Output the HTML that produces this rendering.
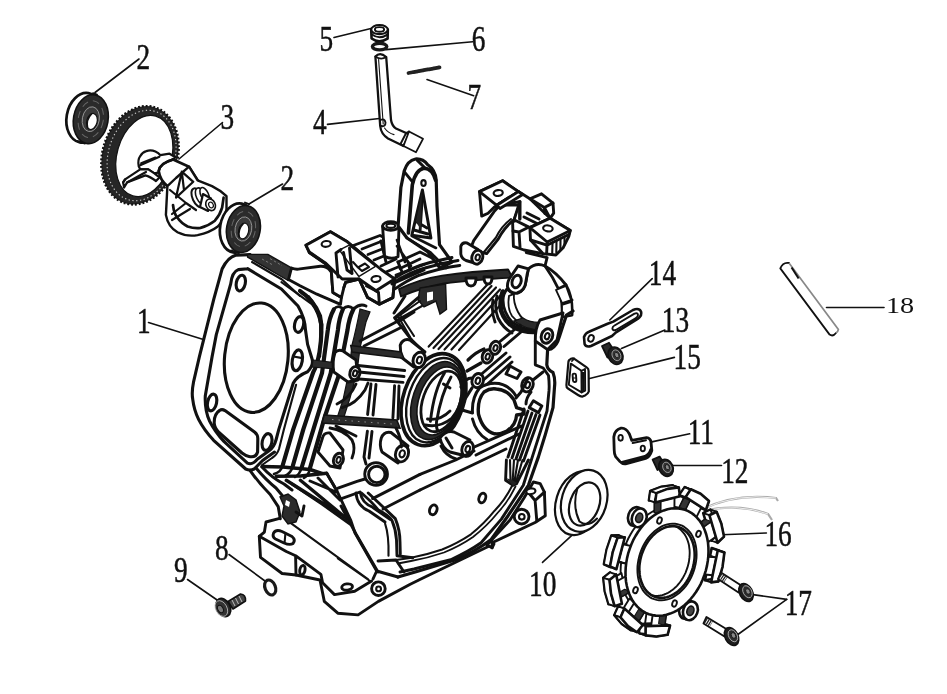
<!DOCTYPE html>
<html><head><meta charset="utf-8">
<style>
html,body{margin:0;padding:0;background:#fff;}
body{width:947px;height:694px;overflow:hidden;font-family:"Liberation Serif",serif;}
svg{display:block;position:absolute;left:0;top:0;filter:blur(.7px);}
.lb{font-family:"Liberation Serif",serif;font-size:35px;fill:#111;stroke:#111;stroke-width:.5;}
.ld{stroke:#111;stroke-width:1.6;fill:none;stroke-linecap:round;}
.o{stroke:#111;stroke-width:2.6;fill:none;stroke-linejoin:round;stroke-linecap:round;}
.m{stroke:#111;stroke-width:1.9;fill:none;stroke-linejoin:round;stroke-linecap:round;}
.t{stroke:#111;stroke-width:1.1;fill:none;stroke-linejoin:round;stroke-linecap:round;}
.k{stroke:#111;stroke-width:3.4;fill:none;stroke-linejoin:round;stroke-linecap:round;}
.w{fill:#fff;}
#body .o,#fins .o,#topbr .o,#base .o{stroke-width:2.9}#flange .o{stroke-width:3.1}#body .m,#fins .m,#flange .m,#topbr .m,#base .m{stroke-width:2.1}
#p3 .m{stroke-width:2.2}#p3 .o{stroke-width:2.7}
.d{fill:#222;}
</style></head><body>
<svg width="947" height="694" viewBox="0 0 947 694">
<rect width="947" height="694" fill="#fff"/>
<!--LABELS-->
<g id="labels">
<g class="lb">
<text transform="translate(136.5,69) scale(.78,1)">2</text>
<text transform="translate(220.5,129) scale(.78,1)">3</text>
<text transform="translate(280.5,190) scale(.78,1)">2</text>
<text transform="translate(137,332.5) scale(.78,1)">1</text>
<text transform="translate(319.5,51) scale(.78,1)">5</text>
<text transform="translate(313,134) scale(.78,1)">4</text>
<text transform="translate(471.7,51.3) scale(.78,1)">6</text>
<text transform="translate(467.4,108.5) scale(.78,1)">7</text>
<text transform="translate(215,559.5) scale(.78,1)">8</text>
<text transform="translate(174,582) scale(.78,1)">9</text>
<text transform="translate(529,595.8) scale(.78,1)">10</text>
<text transform="translate(687.7,444.4) scale(.78,1)">11</text>
<text transform="translate(721.2,482.5) scale(.78,1)">12</text>
<text transform="translate(661.8,331.6) scale(.78,1)">13</text>
<text transform="translate(648.8,285) scale(.78,1)">14</text>
<text transform="translate(673.5,368.6) scale(.78,1)">15</text>
<text transform="translate(764.4,546) scale(.78,1)">16</text>
<text transform="translate(784.7,614.7) scale(.78,1)">17</text>
</g>
<text style="font-family:'Liberation Serif',serif;font-size:23.5px;fill:#111" transform="translate(886,313) scale(1.2,1)">18</text>
</g>
<!--LEADERS-->
<g id="leaders" class="ld">
<path d="M139,59 L95,92.5"/>
<path d="M222.5,122.5 L179,159"/>
<path d="M282.5,184 L249,204"/>
<path d="M148.5,322.5 L205,340"/>
<path d="M334,37.5 L373,28"/>
<path d="M386,49.6 L472.7,41.8"/>
<path d="M427,79.5 L473.7,95.8"/>
<path d="M327.5,124.4 L379.4,118.5"/>
<path d="M229,554.5 L265,581"/>
<path d="M187.5,579.5 L220,602"/>
<path d="M574.3,533.2 L542.5,562.4"/>
<path d="M689.7,433.8 L651.7,441.9"/>
<path d="M673.2,465.5 L721.5,465.5"/>
<path d="M664.9,330 L621.4,348.5"/>
<path d="M652.2,278.6 L609.8,320"/>
<path d="M674.4,357.4 L588.6,378.8"/>
<path d="M722,534.7 L766.4,533"/>
<path d="M786.7,599.4 L751.2,594.4"/>
<path d="M786.7,599.4 L737.2,635"/>
<path d="M826.5,307.5 L884,307.5"/>
</g>
<g id="p18">
<path d="M780.6,268.6 L830,335 Q835,337.5 838.6,329.6 L789.2,263.2 Q784,261.5 780.6,268.6 Z" fill="#fff" stroke="none"/>
<path class="o" style="stroke-width:1.8" d="M789,263 Q783,261.8 780.3,268.4 L829.6,334.6 Q833,337 836,333"/>
<path d="M789,263 L838.4,329.4 Q838,332 836,333" fill="none" stroke="#888" stroke-width="1.7"/>
<path d="M791.6,267.5 L798.6,278.5" fill="none" stroke="#111" stroke-width="2"/>
</g>
<g id="p2a">
<g transform="translate(84.2,117.8) rotate(10)">
<ellipse rx="17.6" ry="25" fill="#fff" stroke="#111" stroke-width="2.7"/>
</g>
<path d="M77,141 l8,2.5 M93,93.2 l4,1.5" class="m"/>
<g transform="translate(90.8,119.2) rotate(10)">
<ellipse rx="17.3" ry="24.6" fill="#2b2b2b" stroke="#111" stroke-width="1.6"/>
<ellipse rx="12.5" ry="18.5" fill="none" stroke="#666" stroke-width="1" stroke-dasharray="7 5"/>
<ellipse rx="8.5" ry="12.5" fill="#3a3a3a" stroke="#999" stroke-width=".9"/>
</g>
<g transform="translate(91.9,121.5) rotate(14)">
<ellipse rx="5.2" ry="8.2" fill="#fff" stroke="#111" stroke-width="1.2"/>
<path d="M-2,-7.5 Q-6.5,0 -2.5,7.6" fill="none" stroke="#111" stroke-width="1.6"/>
</g>
</g>
<g id="p3">
<!-- gear ring -->
<g transform="translate(140,155.3) rotate(17.5)">
<ellipse rx="37.4" ry="50.2" fill="#262626" stroke="#111" stroke-width="2.4" stroke-dasharray="1.9 1.9"/>
<ellipse rx="36" ry="49" fill="#262626" stroke="none"/>
</g>
<g transform="translate(141.6,155.5) rotate(17)">
<ellipse rx="33.2" ry="46.2" fill="none" stroke="#ccc" stroke-width="1.1" stroke-dasharray="1.3 2.5"/>
</g>
<g transform="translate(144.3,156) rotate(16)">
<ellipse rx="27.2" ry="41.5" fill="#fff" stroke="#111" stroke-width="1.2"/>
</g>
<!-- hub -->
<path class="m w" d="M138.7,166.3 Q137.5,160 140.2,156.2 Q142.5,152 146.3,151.1 Q151,149.6 155.4,151.6 Q158.5,153 160.4,155.2 L169.5,153.7 L175.5,157.2 L164,166 L159.4,172.3 L154.4,173.3 L148.3,169.3 L140.2,169.3Z"/>
<path class="m" d="M140.2,165.3 L159.4,156.7 M141.2,163.3 L155.4,157.6"/>
<path class="m w" d="M125.1,179.4 L140.2,169.3 L148.3,169.3 L154.4,173.3 L159.4,177.4 L156,181 Q150,176.5 145.3,175.4 L127.1,182.4 L124.1,187.5 L123.1,182.4Z"/>
<path class="m" d="M127.1,182.4 L146,172 M125.1,179.4 L123.1,182.4"/>
<!-- cylinder -->
<path class="o w" d="M158.7,171 Q160,163 173.1,159.5 L189,166.7 L200,184 L176,200 L167.4,186.1 Q160,180 158.7,171Z"/>
<path class="k" style="stroke-width:2.4" d="M158.7,171 Q160,163 173.1,159.5"/>
<!-- flyweight U -->
<path class="o w" style="stroke-width:2.4" d="M167.4,186.1 L165.9,214.9 Q168,227 177.5,232.2 Q187,237 197.6,235.1 Q210,232.5 217.8,226.5 Q225,219 226.5,209.2 L226.5,196.2 Q220,190 212,186.1 L197.6,180.3 L189,166.7 L176,178Z"/>
<path class="o" d="M173,205 Q174,214 177.5,217.8 Q181,223 187.6,226.5 Q194,228.6 200.5,227.9 Q208,226 214.9,220.7 Q220,215 222.1,207.7 L223.6,197.6"/>
<path class="m" d="M181.8,171.7 L176,197.6 L193.3,181.8 Z M181.8,171.7 L184,190 M170,190 L186,203 L172,214 M186,203 L196,210 M172,220 L190,209"/>
<!-- shaft end rings -->
<g transform="translate(197.8,197.8) rotate(-25)">
<ellipse rx="5.2" ry="10.2" fill="#fff" stroke="#111" stroke-width="2"/>
<ellipse cx="3.5" cy="0" rx="4.6" ry="9" fill="#fff" stroke="#111" stroke-width="1.6"/>
<ellipse cx="7.5" cy="0" rx="3.8" ry="7.6" fill="#fff" stroke="#111" stroke-width="1.6"/>
</g>
<path class="m w" d="M203,194 L211,198.5 L208,211 L200,207Z"/>
<ellipse cx="210.6" cy="204.8" rx="4.6" ry="6" fill="#fff" stroke="#111" stroke-width="1.6" transform="rotate(-25 210.6 204.8)"/>
<ellipse cx="211" cy="205" rx="2.2" ry="3" fill="#fff" stroke="#111" stroke-width="1.2" transform="rotate(-25 211 205)"/>
</g>
<g id="p2b">
<g transform="translate(237.5,228) rotate(10)">
<ellipse rx="17.4" ry="24.8" fill="#fff" stroke="#111" stroke-width="2.7"/>
</g>
<path d="M231,250.5 l8,2.5 M245,202.6 l4,1.5" class="m"/>
<g transform="translate(243.4,229) rotate(10)">
<ellipse rx="16.8" ry="23.6" fill="#2b2b2b" stroke="#111" stroke-width="1.6"/>
<ellipse rx="12" ry="17.8" fill="none" stroke="#666" stroke-width="1" stroke-dasharray="7 5"/>
<ellipse rx="8.3" ry="12.2" fill="#3a3a3a" stroke="#999" stroke-width=".9"/>
</g>
<g transform="translate(243.6,231) rotate(14)">
<ellipse rx="5" ry="8" fill="#fff" stroke="#111" stroke-width="1.2"/>
<path d="M-2,-7.3 Q-6.3,0 -2.5,7.4" fill="none" stroke="#111" stroke-width="1.6"/>
</g>
</g>
<g id="p4567">
<!-- tube 4 -->
<path class="o w" style="stroke-width:2.3" d="M375.4,56.5 Q380,51.5 386.2,57 L391,120 Q392,126 396,128.5 L409.5,134.5 L403.5,146 L388,138.5 Q381,134 380.2,126 Z"/>
<path class="m" d="M375.4,56.5 Q381,60.5 386.2,57"/>
<path class="t" d="M378.6,59.5 L383.2,124"/>
<path class="m" d="M380.5,120 Q384.5,118 385.5,122.5 Q385.5,127 381.5,126"/>
<path class="t" d="M384.5,128 Q388,133 394,134.6"/>
<!-- end box -->
<path class="o w" style="stroke-width:1.8" d="M409,131.5 L423,138.8 L416,152.2 L403.5,146 Z"/>
<path class="m" d="M409,131.5 L406,133.2 L400.5,144 L403.5,146"/>
<!-- cap 5 -->
<path class="o w" d="M371.2,30 L371.6,38.5 Q379,44 387.6,38.6 L387.8,29.5 Z"/>
<ellipse cx="379.5" cy="29.6" rx="8.3" ry="4.6" class="o w" style="stroke-width:2.2"/>
<ellipse cx="379.5" cy="29.4" rx="4.6" ry="2.3" class="m w"/>
<path class="m" d="M372,34.5 Q379.6,40 387.4,34.6"/>
<!-- washer 6 -->
<ellipse cx="379.6" cy="46.6" rx="7.2" ry="3.3" fill="#fff" stroke="#1a1a1a" stroke-width="3.4"/>
<!-- pin 7 -->
<path d="M408.5,73 L439.5,67.4" stroke="#222" stroke-width="3.8" stroke-linecap="round" fill="none" stroke-dasharray="4.2 1"/>
<path d="M408.5,73 L439.5,67.4" stroke="#222" stroke-width="1.6" stroke-linecap="round" fill="none"/>
</g>
<g id="p89">
<!-- washer 8 -->
<g transform="translate(270.2,587.5) rotate(-22)">
<ellipse rx="5.2" ry="7.8" fill="#fff" stroke="#1a1a1a" stroke-width="3.2"/>
</g>
<!-- bolt 9 -->
<path class="o" style="fill:#444;stroke-width:1.6" d="M228,601.5 L240.5,594 Q246,594.5 245.5,601 L233,609Z"/>
<path d="M232,600 l3,6 M235.5,598 l3,6 M239,596 l3,6" stroke="#ddd" stroke-width=".8" fill="none"/>
<g transform="translate(223.3,607.5) rotate(-28)">
<ellipse rx="6.8" ry="9.6" fill="#2a2a2a" stroke="#111" stroke-width="1.6"/>
<ellipse cx="-2.2" rx="5.6" ry="8.4" fill="#333" stroke="#bbb" stroke-width=".8"/>
<ellipse cx="-3.2" rx="2.6" ry="4" fill="#777" stroke="#111" stroke-width="1"/>
</g>
</g>
<g id="p10">
<g transform="translate(578.6,503.2) rotate(17)">
<ellipse rx="22.6" ry="32.6" fill="#fff" stroke="#111" stroke-width="2.2"/>
</g>
<g transform="translate(584.2,500.8) rotate(17)">
<ellipse rx="22.4" ry="31.6" fill="#fff" stroke="#111" stroke-width="2.2"/>
</g>
<g transform="translate(584.6,504) rotate(20)">
<ellipse rx="14.6" ry="22.4" fill="#fff" stroke="#111" stroke-width="2.2"/>
</g>
<path class="o" style="stroke-width:2" d="M577.5,488 Q572,506 579.5,521.5 Q588,528 597,518.5"/>
</g>
<g id="p1115">
<!-- lever 14 -->
<path class="o w" style="stroke-width:2.6" d="M584,337 Q585.5,333 589,331.8 L607.6,323.8 L613.3,321.6 L633,310 Q639,307.5 641,311.5 Q642.3,315.5 638,318.6 L616,332.4 L612,336 L591,346 Q586,347.5 584.6,344Z"/>
<path class="m" d="M614.5,325.5 L634.5,313.6 Q638,312.6 638,315 Q638,317 635.5,318.4 L615.8,330 Q612.5,331 612.4,328.4 Q612.6,326.4 614.5,325.5Z"/>
<ellipse cx="591" cy="338.4" rx="2.7" ry="3.4" class="m w" transform="rotate(20 591 338.4)"/>
<!-- bolt 13 -->
<path d="M602,346 L609,342.8 L615,352 L607.5,357.5 Z" fill="#2a2a2a" stroke="#111" stroke-width="1.8" stroke-linejoin="round"/>
<g transform="translate(615.5,355.7) rotate(-25)">
<ellipse rx="7.2" ry="9" fill="#1e1e1e" stroke="#111" stroke-width="1.6"/>
<ellipse cx="1" rx="4.2" ry="5.6" fill="#333" stroke="#aaa" stroke-width=".8"/>
<ellipse cx="1.4" rx="2" ry="2.8" fill="#888" stroke="#111" stroke-width=".8"/>
</g>
<!-- clip 15 -->
<path class="o w" style="stroke-width:2.2" d="M569.4,360 Q571.5,357.8 574,358.6 L587,367.6 Q588.6,368.6 588.6,371 L588.8,391.5 Q588,394 585,395.5 L582.5,396.6 Q580.6,396.8 578,395 L568,388.5 Q566.2,387.4 566.4,385 L568.4,362 Q568.6,360.6 569.4,360Z"/>
<path class="m" d="M570.9,363.6 L581.4,370.8 L581.6,392.4 L568.8,384.8 Z"/>
<path class="m" d="M581.4,370.8 L585,369 M581.6,392.4 L585.2,390.6 L585,369 M574,358.6 L572,361"/>
<path d="M583.3,372 L583.4,392" stroke="#111" stroke-width="2.6" fill="none"/>
<rect x="572.8" y="373.6" width="3.4" height="8.4" rx="1.6" class="m" transform="rotate(-4 574.5 378)"/>
<path d="M573,378 h3.2" class="t"/>
<!-- bracket 11 -->
<path class="o w" style="stroke-width:2.8" d="M613.8,437 Q614.5,430 621,428.2 Q626,427.6 629.4,434 L631.8,440.4 L646.6,437.6 Q650.4,438 651,442 L651.8,450.5 Q650,456.6 645.6,458.4 L625.6,463.8 Q622.5,464.2 620,461.6 L615.6,456.6 Q614.2,454 614.2,450 Z"/>
<path class="m" d="M632.6,443 L646,440.2"/><path class="k" style="stroke-width:3.2" d="M622,462.5 L645,456.6 Q649.6,454.6 650.8,450"/>
<ellipse cx="620.6" cy="437.8" rx="2.2" ry="2.9" class="m w"/>
<ellipse cx="642.8" cy="448.4" rx="2.1" ry="2.8" class="m w"/>
<!-- bolt 12 -->
<path d="M652.6,459.6 L659.6,456.6 L665,465 L657.5,470 Z" fill="#2a2a2a" stroke="#111" stroke-width="1.8" stroke-linejoin="round"/>
<g transform="translate(666,467.8) rotate(-25)">
<ellipse rx="7" ry="8.8" fill="#1e1e1e" stroke="#111" stroke-width="1.6"/>
<ellipse cx="1" rx="4" ry="5.4" fill="#333" stroke="#aaa" stroke-width=".8"/>
<ellipse cx="1.4" rx="1.9" ry="2.7" fill="#888" stroke="#111" stroke-width=".8"/>
</g>
</g>
<g id="p16">
<path d="M703,509 Q735,493 776,498 L778,501 M703,511 Q738,503 768,514 L772,520" fill="none" stroke="#aaa" stroke-width="2.2"/>
<path d="M703,509 Q735,493 776,498 M703,511 Q738,503 768,514" fill="none" stroke="#fff" stroke-width=".8"/>
<path class="m w"  d="M699.5,573.2 L697.8,577.7 L695.8,582.1 L693.6,586.3 L691.1,590.3 L688.4,594.0 L685.5,597.6 L682.4,600.8 L679.2,603.7 L675.9,606.3 L672.4,608.6 L668.8,610.5 L665.2,612.0 L661.6,613.1 L658.0,613.8 L654.4,614.1 L650.9,613.9 L647.4,613.4 L644.1,612.5 L640.9,611.2 L637.9,609.5 L635.0,607.4 L632.4,604.9 L630.0,602.2 L627.8,599.1 L625.9,595.7 L624.2,592.0 L622.9,588.1 L621.8,584.0 L621.1,579.7 L620.7,575.2 L620.6,570.7 L620.8,566.0 L621.3,561.4 L622.1,556.7 L623.2,552.0 L624.6,547.4 L626.3,542.9 L628.3,538.5 L630.6,534.3 L633.0,530.3 L635.7,526.6 L638.6,523.0 L641.7,519.8 L645.0,516.9 L648.3,514.3 L651.8,512.0 L655.3,510.2 L658.9,508.7 L662.5,507.6 L666.2,506.9 L669.8,506.6 L673.3,506.7 L676.7,507.2 L680.1,508.1 L683.2,509.4 L686.3,511.1 L689.1,513.2 L691.8,515.7 L694.2,518.5 L696.4,521.6 L698.3,524.9 L699.9,528.6 L701.3,532.5 L702.3,536.6 L703.1,540.9 L703.5,545.4 L703.6,549.9 L703.4,554.6 L702.9,559.3 L702.1,563.9 L700.9,568.6 L699.5,573.2Z"/>
<g transform="translate(639.2,517.8) rotate(19)"><ellipse cx="-4" rx="7.2" ry="9.6" class="o w"/><ellipse rx="7.2" ry="9.6" class="o w"/><ellipse rx="3.4" ry="4.8" fill="#444" stroke="#111" stroke-width="1.6"/></g>
<g transform="translate(690.4,610.8) rotate(19)"><ellipse cx="-4" rx="7.2" ry="9.6" class="o w"/><ellipse rx="7.2" ry="9.6" class="o w"/><ellipse rx="3.4" ry="4.8" fill="#444" stroke="#111" stroke-width="1.6"/></g>
<path class="m w"  d="M654.4,512.4 L654.5,499.0 L668.3,495.6 L668.2,508.9Z"/>
<path class="o w"  d="M648.9,500.4 L650.3,490.9 L661.5,486.7 L672.7,485.3 L673.9,494.2Z"/>
<path class="m w"  d="M648.9,500.4 L650.3,490.9 L656.4,493.1 L655.1,502.5Z"/>
<path class="m w"  d="M672.7,485.3 L673.9,494.2 L680.0,496.3 L678.8,487.5Z"/>
<path class="m w"  d="M650.3,490.9 L661.5,486.7 L672.7,485.3 L678.8,487.5 L667.6,488.9 L656.4,493.1Z"/>
<path class="m w"  d="M660.5,514.5 L660.6,501.1 L674.5,497.7 L674.4,511.0Z"/>
<path class="t" style="fill:#333" d="M654.4,512.4 L654.5,499.0 L660.6,501.1 L660.5,514.5Z"/>
<path class="o w"  d="M655.1,502.5 L656.4,493.1 L667.6,488.9 L678.8,487.5 L680.0,496.3Z"/>
<path class="m w"  d="M677.8,510.4 L683.9,497.9 L695.2,505.2 L689.1,517.6Z"/>
<path class="o w"  d="M679.4,495.0 L684.7,487.1 L694.4,491.7 L702.9,498.9 L699.7,508.1Z"/>
<path class="m w"  d="M679.4,495.0 L684.7,487.1 L690.8,489.3 L685.6,497.1Z"/>
<path class="m w"  d="M702.9,498.9 L699.7,508.1 L705.8,510.2 L709.0,501.0Z"/>
<path class="m w"  d="M684.7,487.1 L694.4,491.7 L702.9,498.9 L709.0,501.0 L700.6,493.8 L690.8,489.3Z"/>
<path class="m w"  d="M684.0,512.5 L690.1,500.0 L701.3,507.3 L695.2,519.7Z"/>
<path class="t" style="fill:#333" d="M677.8,510.4 L683.9,497.9 L690.1,500.0 L684.0,512.5Z"/>
<path class="o w"  d="M685.6,497.1 L690.8,489.3 L700.6,493.8 L709.0,501.0 L705.8,510.2Z"/>
<path class="m w"  d="M695.1,526.3 L705.1,519.2 L709.6,534.6 L699.7,541.6Z"/>
<path class="o w"  d="M703.2,513.1 L710.4,509.7 L715.2,521.3 L717.9,534.5 L711.5,540.7Z"/>
<path class="m w"  d="M703.2,513.1 L710.4,509.7 L716.6,511.8 L709.4,515.2Z"/>
<path class="m w"  d="M717.9,534.5 L711.5,540.7 L717.6,542.8 L724.0,536.6Z"/>
<path class="m w"  d="M710.4,509.7 L715.2,521.3 L717.9,534.5 L724.0,536.6 L721.3,523.5 L716.6,511.8Z"/>
<path class="m w"  d="M701.3,528.4 L711.2,521.4 L715.8,536.7 L705.9,543.7Z"/>
<path class="t" style="fill:#333" d="M695.1,526.3 L705.1,519.2 L711.2,521.4 L701.3,528.4Z"/>
<path class="o w"  d="M709.4,515.2 L716.6,511.8 L721.3,523.5 L724.0,536.6 L717.6,542.8Z"/>
<path class="m w"  d="M700.0,554.3 L710.2,555.3 L706.4,573.1 L696.3,572.2Z"/>
<path class="o w"  d="M711.7,548.1 L718.3,550.3 L716.3,564.9 L712.2,579.3 L705.0,580.3Z"/>
<path class="m w"  d="M711.7,548.1 L718.3,550.3 L724.4,552.5 L717.8,550.2Z"/>
<path class="m w"  d="M712.2,579.3 L705.0,580.3 L711.1,582.4 L718.4,581.4Z"/>
<path class="m w"  d="M718.3,550.3 L716.3,564.9 L712.2,579.3 L718.4,581.4 L722.5,567.0 L724.4,552.5Z"/>
<path class="m w"  d="M706.2,556.5 L716.3,557.4 L712.6,575.3 L702.5,574.3Z"/>
<path class="t" style="fill:#333" d="M700.0,554.3 L710.2,555.3 L716.3,557.4 L706.2,556.5Z"/>
<path class="o w"  d="M717.8,550.2 L724.4,552.5 L722.5,567.0 L718.4,581.4 L711.1,582.4Z"/>
<path class="m w"  d="M660.5,609.9 L658.6,623.5 L645.0,623.8 L646.9,610.2Z"/>
<path class="o w"  d="M664.0,623.4 L661.4,632.7 L650.2,634.4 L639.4,633.3 L639.5,624.0Z"/>
<path class="m w"  d="M664.0,623.4 L661.4,632.7 L667.6,634.8 L670.1,625.5Z"/>
<path class="m w"  d="M639.4,633.3 L639.5,624.0 L645.7,626.1 L645.6,635.4Z"/>
<path class="m w"  d="M661.4,632.7 L650.2,634.4 L639.4,633.3 L645.6,635.4 L656.4,636.5 L667.6,634.8Z"/>
<path class="m w"  d="M666.6,612.0 L664.7,625.6 L651.1,626.0 L653.0,612.3Z"/>
<path class="t" style="fill:#333" d="M660.5,609.9 L658.6,623.5 L664.7,625.6 L666.6,612.0Z"/>
<path class="o w"  d="M670.1,625.5 L667.6,634.8 L656.4,636.5 L645.6,635.4 L645.7,626.1Z"/>
<path class="m w"  d="M639.7,607.5 L632.6,619.2 L622.4,610.0 L629.5,598.4Z"/>
<path class="o w"  d="M636.6,622.9 L630.8,630.1 L621.8,623.9 L614.3,615.2 L618.3,606.4Z"/>
<path class="m w"  d="M636.6,622.9 L630.8,630.1 L637.0,632.2 L642.8,625.0Z"/>
<path class="m w"  d="M614.3,615.2 L618.3,606.4 L624.4,608.5 L620.5,617.3Z"/>
<path class="m w"  d="M630.8,630.1 L621.8,623.9 L614.3,615.2 L620.5,617.3 L628.0,626.0 L637.0,632.2Z"/>
<path class="m w"  d="M645.8,609.7 L638.7,621.4 L628.5,612.2 L635.7,600.5Z"/>
<path class="t" style="fill:#333" d="M639.7,607.5 L632.6,619.2 L638.7,621.4 L645.8,609.7Z"/>
<path class="o w"  d="M642.8,625.0 L637.0,632.2 L628.0,626.0 L620.5,617.3 L624.4,608.5Z"/>
<path class="m w"  d="M624.7,589.3 L614.5,595.1 L611.3,578.9 L621.5,573.1Z"/>
<path class="o w"  d="M615.8,601.6 L608.5,604.1 L604.8,591.5 L603.3,577.8 L610.0,572.4Z"/>
<path class="m w"  d="M615.8,601.6 L608.5,604.1 L614.6,606.2 L621.9,603.7Z"/>
<path class="m w"  d="M603.3,577.8 L610.0,572.4 L616.2,574.5 L609.5,579.9Z"/>
<path class="m w"  d="M608.5,604.1 L604.8,591.5 L603.3,577.8 L609.5,579.9 L611.0,593.7 L614.6,606.2Z"/>
<path class="m w"  d="M630.9,591.4 L620.6,597.2 L617.4,581.0 L627.7,575.2Z"/>
<path class="t" style="fill:#333" d="M624.7,589.3 L614.5,595.1 L620.6,597.2 L630.9,591.4Z"/>
<path class="o w"  d="M621.9,603.7 L614.6,606.2 L611.0,593.7 L609.5,579.9 L616.2,574.5Z"/>
<path class="m w"  d="M622.0,561.9 L612.1,560.0 L616.8,542.3 L626.7,544.1Z"/>
<path class="o w"  d="M610.2,567.1 L603.9,564.2 L606.6,549.7 L611.4,535.5 L618.6,535.2Z"/>
<path class="m w"  d="M610.2,567.1 L603.9,564.2 L610.0,566.4 L616.4,569.2Z"/>
<path class="m w"  d="M611.4,535.5 L618.6,535.2 L624.8,537.3 L617.6,537.6Z"/>
<path class="m w"  d="M603.9,564.2 L606.6,549.7 L611.4,535.5 L617.6,537.6 L612.8,551.8 L610.0,566.4Z"/>
<path class="m w"  d="M628.2,564.0 L618.3,562.1 L622.9,544.4 L632.8,546.2Z"/>
<path class="t" style="fill:#333" d="M622.0,561.9 L612.1,560.0 L618.3,562.1 L628.2,564.0Z"/>
<path class="o w"  d="M616.4,569.2 L610.0,566.4 L612.8,551.8 L617.6,537.6 L624.8,537.3Z"/>
<path class="o w"  d="M704.4,574.9 L702.7,579.4 L700.8,583.8 L698.5,588.0 L696.0,592.0 L693.3,595.7 L690.4,599.3 L687.4,602.5 L684.1,605.4 L680.8,608.0 L677.3,610.3 L673.8,612.1 L670.2,613.6 L666.5,614.8 L662.9,615.5 L659.3,615.8 L655.8,615.6 L652.4,615.1 L649.0,614.2 L645.8,612.9 L642.8,611.2 L640.0,609.1 L637.3,606.6 L634.9,603.9 L632.7,600.8 L630.8,597.4 L629.2,593.7 L627.8,589.8 L626.8,585.7 L626.0,581.4 L625.6,576.9 L625.5,572.4 L625.7,567.7 L626.2,563.1 L627.0,558.4 L628.1,553.7 L629.6,549.1 L631.3,544.6 L633.2,540.2 L635.5,536.0 L638.0,532.0 L640.7,528.3 L643.6,524.7 L646.6,521.5 L649.9,518.6 L653.2,516.0 L656.7,513.7 L660.2,511.9 L663.8,510.4 L667.5,509.2 L671.1,508.5 L674.7,508.2 L678.2,508.4 L681.6,508.9 L685.0,509.8 L688.2,511.1 L691.2,512.8 L694.0,514.9 L696.7,517.4 L699.1,520.1 L701.3,523.2 L703.2,526.6 L704.8,530.3 L706.2,534.2 L707.2,538.3 L708.0,542.6 L708.4,547.1 L708.5,551.6 L708.3,556.3 L707.8,560.9 L707.0,565.6 L705.9,570.3 L704.4,574.9Z"/>
<path class="m w"  d="M693.7,571.2 L692.5,574.4 L691.1,577.5 L689.5,580.5 L687.7,583.4 L685.8,586.1 L683.7,588.6 L681.5,590.9 L679.2,593.0 L676.8,594.8 L674.3,596.4 L671.8,597.8 L669.3,598.8 L666.7,599.6 L664.1,600.1 L661.5,600.3 L659.0,600.3 L656.6,599.9 L654.2,599.2 L651.9,598.3 L649.7,597.1 L647.7,595.6 L645.8,593.8 L644.1,591.9 L642.5,589.6 L641.2,587.2 L640.0,584.6 L639.0,581.8 L638.3,578.9 L637.8,575.8 L637.5,572.7 L637.4,569.4 L637.5,566.1 L637.9,562.8 L638.5,559.4 L639.3,556.1 L640.3,552.8 L641.5,549.6 L642.9,546.5 L644.5,543.5 L646.3,540.6 L648.2,537.9 L650.3,535.4 L652.5,533.1 L654.8,531.0 L657.2,529.2 L659.7,527.6 L662.2,526.2 L664.7,525.2 L667.3,524.4 L669.9,523.9 L672.5,523.7 L675.0,523.7 L677.4,524.1 L679.8,524.8 L682.1,525.7 L684.3,526.9 L686.3,528.4 L688.2,530.2 L689.9,532.1 L691.5,534.4 L692.8,536.8 L694.0,539.4 L695.0,542.2 L695.7,545.1 L696.2,548.2 L696.5,551.3 L696.6,554.6 L696.5,557.9 L696.1,561.2 L695.5,564.6 L694.7,567.9 L693.7,571.2Z"/>
<path class="o w"  d="M692.0,570.6 L690.8,573.6 L689.5,576.5 L688.0,579.3 L686.4,582.0 L684.6,584.5 L682.6,586.8 L680.6,589.0 L678.4,591.0 L676.2,592.7 L673.9,594.2 L671.5,595.4 L669.1,596.4 L666.7,597.2 L664.3,597.6 L661.9,597.8 L659.5,597.8 L657.2,597.4 L655.0,596.8 L652.9,595.9 L650.9,594.8 L649.0,593.4 L647.2,591.8 L645.6,589.9 L644.1,587.8 L642.9,585.6 L641.8,583.1 L640.9,580.5 L640.2,577.8 L639.7,574.9 L639.4,572.0 L639.3,568.9 L639.4,565.8 L639.8,562.7 L640.3,559.6 L641.1,556.5 L642.0,553.4 L643.2,550.4 L644.5,547.5 L646.0,544.7 L647.6,542.0 L649.4,539.5 L651.4,537.2 L653.4,535.0 L655.6,533.0 L657.8,531.3 L660.1,529.8 L662.5,528.6 L664.9,527.6 L667.3,526.8 L669.7,526.4 L672.1,526.2 L674.5,526.2 L676.8,526.6 L679.0,527.2 L681.1,528.1 L683.1,529.2 L685.0,530.6 L686.8,532.2 L688.4,534.1 L689.9,536.2 L691.1,538.4 L692.2,540.9 L693.1,543.5 L693.8,546.2 L694.3,549.1 L694.6,552.0 L694.7,555.1 L694.6,558.2 L694.2,561.3 L693.7,564.4 L692.9,567.5 L692.0,570.6Z"/>
<path class="m" d="M678.2,527.9 L679.8,529.0 L681.3,530.3 L682.6,531.8 L683.9,533.3 L685.1,535.1 L686.1,536.9 L687.0,538.9 L687.8,541.0 L688.5,543.2 L689.0,545.4 L689.3,547.8 L689.6,550.2 L689.7,552.7 L689.6,555.2 L689.4,557.7 L689.1,560.3 L688.7,562.8 L688.0,565.4 L687.3,567.9 L686.4,570.4 L685.5,572.8 L684.3,575.2 L683.1,577.4 L681.8,579.6 L680.3,581.7 L678.8,583.7 L677.2,585.6 L675.5,587.3 L673.7,588.9 L671.9,590.3 L670.1,591.6 L668.1,592.8 L666.2,593.7 L664.2,594.5 L662.3,595.1 L660.3,595.5 L658.3,595.8 L656.4,595.9 L654.5,595.7 L652.6,595.4"/>
<ellipse cx="659.5" cy="520.5" rx="2.2" ry="3.2" class="m w" transform="rotate(19 659.5 520.5)"/>
<ellipse cx="698.5" cy="533.9" rx="2.2" ry="3.2" class="m w" transform="rotate(19 698.5 533.9)"/>
<ellipse cx="635.5" cy="590.1" rx="2.2" ry="3.2" class="m w" transform="rotate(19 635.5 590.1)"/>
<ellipse cx="674.5" cy="603.5" rx="2.2" ry="3.2" class="m w" transform="rotate(19 674.5 603.5)"/>
</g>
<g id="p17">
<!-- upper bolt -->
<path class="m w" d="M721,572.5 L742,586 L738.5,592.5 L718,579 Z"/>
<path d="M720,575.5 L726,579.5" stroke="#222" stroke-width="6.4" fill="none" stroke-dasharray="1.3 .9"/>
<g transform="translate(746,592.5) rotate(-28)">
<ellipse rx="6.4" ry="9.6" fill="#1e1e1e" stroke="#111" stroke-width="1.6"/>
<ellipse cx="1.6" rx="4.2" ry="6.4" fill="#2c2c2c" stroke="#bbb" stroke-width=".8"/>
<ellipse cx="2.2" rx="2" ry="3" fill="#888" stroke="#111" stroke-width=".8"/>
</g>
<!-- lower bolt -->
<path class="m w" d="M706.5,617 L728,630 L724.5,636.5 L703.5,623.5 Z"/>
<path d="M705.5,620.2 L711.5,623.8" stroke="#222" stroke-width="6.4" fill="none" stroke-dasharray="1.3 .9"/>
<g transform="translate(731.5,636.5) rotate(-28)">
<ellipse rx="6.4" ry="9.6" fill="#1e1e1e" stroke="#111" stroke-width="1.6"/>
<ellipse cx="1.6" rx="4.2" ry="6.4" fill="#2c2c2c" stroke="#bbb" stroke-width=".8"/>
<ellipse cx="2.2" rx="2" ry="3" fill="#888" stroke="#111" stroke-width=".8"/>
</g>
</g>
<g id="flange">
<!-- white base of flange -->
<path class="w" d="M247.6,254.4 L235.7,255.2 Q228,257 222.2,268.7 L213.8,299.1 L199.4,356.6 L193.5,382.2 Q191.5,392 192.7,399.1 Q194,410 198.6,419.4 Q204,430 213.6,440.3 L245.7,469 Q250,471 254.2,469 L262.6,460.5 L274.5,452.1 L283.9,429.4 L296.1,384.8 L312,358.8 L320.2,324.5 L311.8,304.2 L281.4,282.2Z"/>
<!-- outer silhouette -->
<path class="o" d="M250,254.6 L235.7,255.2 Q228,257 222.2,268.7 L213.8,299.1 L199.4,356.6 L193.5,382.2 Q191.5,392 192.7,399.1 Q194,410 198.6,419.4 Q204,430 213.6,440.3 L245.7,469 Q250,471 254.2,469 L262.6,460.5 L274.5,452.1"/>
<!-- dark top block -->
<path d="M247.6,254.4 L267.8,254.4 L291.5,267.9 L288.1,280.5 L247.6,257.2Z" fill="#333" stroke="#111" stroke-width="1.4" stroke-linejoin="round"/>
<path d="M262,259 l10,5.5 M270,258.6 l12,7" stroke="#888" stroke-width=".8" stroke-dasharray="2.5 2" fill="none"/>
<!-- inner outline -->
<path class="o" d="M247.6,268.7 L238.3,269.6 Q232,272 230.7,283.9 L216.3,334.6 L212.1,356.6 L205.3,395.7 Q204.6,410 209.6,421.1 Q215,432 223.9,441.4 L247.4,463.1 Q252.5,465.4 257.6,458.9 L269.4,450.4 Q274,447 276,440 L278.8,429.4 L293.2,383.3 Q297,376 307.6,371.8 Q314,365 312,358.8 L307.6,344.4 L305.5,330 Q305,318 298,306 L281.4,289 L247.6,268.7"/>
<!-- second inner line right side -->
<path class="m" d="M281.4,282.2 L311.8,304.2 Q318,312 320.2,324.5 L320.2,356.6 M296.1,384.8 L283.9,429.4 L279,449 Q277,455 272,458 L262,465"/>
<path class="m" d="M252,262 L282,279.5 L300,296"/>
<!-- bore -->
<ellipse cx="256.3" cy="357.7" rx="31.7" ry="54.9" class="o" transform="rotate(5.5 256.3 357.7)"/>
<!-- bolt holes -->
<ellipse cx="240.8" cy="283.1" rx="4.5" ry="8" class="o w" transform="rotate(12 240.8 283.1)"/>
<ellipse cx="299.1" cy="324.5" rx="4.5" ry="8" class="o w" transform="rotate(12 299.1 324.5)"/>
<ellipse cx="297.3" cy="360.3" rx="5" ry="10.5" class="o w" transform="rotate(10 297.3 360.3)"/>
<path class="m" d="M293.5,356.5 l7.5,1.4"/>
<ellipse cx="212.1" cy="402.5" rx="4.5" ry="8.5" class="o w" transform="rotate(12 212.1 402.5)"/>
<ellipse cx="267" cy="442" rx="4.8" ry="8.5" class="o w" transform="rotate(12 267 442)"/>
<!-- pushrod slot -->
<path class="o" d="M219.7,410.4 Q222,408.6 225,410.6 L254.5,432 Q258,434.6 257.8,439 L257.6,452 Q256,458 249,456.5 Q246,456 242,453 L219,432.5 Q214.5,428 214.2,423 Q214,414 219.7,410.4Z"/>
</g>
<g id="fins">
<!-- top-of-cylinder white block -->
<path class="o w" d="M291.5,268 Q296,270 300,268.9 L320.3,266.3 Q327,266 330,270.5 L331.3,272 L332.9,292.5 L341.4,297.6 L340.5,304.3 L316.9,294.2 L300,285.7 L288.5,279.5Z"/>
<!-- fins: thick long curves -->
<g class="k" style="stroke-width:4.2">
<path d="M300,291 Q314,300 320,316 Q323,330 319.5,352 Q317,366 313.4,371.8 L293.2,429.4 L282.5,466"/>
<path d="M333.8,309.4 Q329,318 327.8,330 L322,373.2 L303.3,429.4 L292.5,467"/>
<path d="M343,309 Q339,318 337.9,330 L330.7,373.2 L313.4,429.4 L301.5,468"/>
<path d="M353.5,309 Q349,318 347.5,330 L338.5,376.1 L324.9,416.5 L310,468"/>
</g>
<path class="o" d="M308.5,296.5 Q318,308 322,324.6 L320.3,346.6"/>
<!-- fin top caps -->
<path class="o" d="M333.8,309.4 Q338,304 343,309 M343,309 Q348,304 353.5,309 M353.5,309 Q360,303 366,306"/>
<!-- dark clusters -->
<path d="M313,360 L338,363 L337,369 L312,367Z" fill="#2b2b2b" stroke="#111" stroke-width="1.2"/>
<path d="M360,309 Q356,330 352,345 L349,372 L343,400 L337,418 L343,420 L350,398 L357,372 L360,348 L366,322 L370,312Z" fill="#2b2b2b" stroke="#111" stroke-width="1.2"/>
<!-- bottom joins -->
<path class="k" style="stroke-width:3.6" d="M262,466.5 L282.5,467 L310,469.5 L323.4,474"/>
<path class="k" style="stroke-width:2.6" d="M282.5,466 Q281,472 274,474 M292.5,467 Q291,473 285,476 M301.5,468 Q300,474 295,477 M310,468 Q309,475 304,478"/>
</g>
<g id="topbr">
<!-- LEFT BRACKET -->
<!-- leg / front faces -->
<path class="o w" d="M305.9,245.2 L309.3,252.5 L325.3,263.5 L331.3,270.5 L332.9,292.5 L341.4,297.6 L343.9,287.4 L345.6,282.4 L359.1,279 L367.6,297.6 L379.4,304.3 L392.9,297.6 L394.6,279 L381.1,270.5 L347.3,241.8 L330.4,231.7Z"/>
<!-- top plate -->
<path class="o w" d="M305.9,245.2 L330.4,231.7 L347.3,241.8 L381.1,269.5 L394.6,279 L376,290.8 L359.1,279 L342.2,279 L325.3,262.9 L309.3,252 Z"/>
<path class="o" d="M309.3,252.5 L325.3,263.5 L331.3,270.5 M343.9,287.4 L345.6,282.4 L359.1,279 M376,290.8 L378.5,292.5 L379.4,304.3 M394.6,279 L392.9,297.6 L379.4,304.3 L367.6,297.6 L359.1,279"/>
<path class="m" d="M378.5,292.5 L366,286"/>
<!-- opening -->
<path class="o w" d="M340.5,250.3 L349,246 L374.3,266.3 L359.1,275.6 Z"/>
<path d="M340.5,250.3 L349,246 L374.3,266.3 L359.1,275.6 Z" fill="#fff"/>
<path class="o" d="M343.5,252.5 L347,270 M349.5,248 L352,273.5 M347,270 L352,273.5"/>
<path class="m" d="M358,267.5 L365,263.5 L369,267 L362,271Z M353,262 L358,267.5"/>
<path class="o" d="M336,253 L341,249.5 M336,253 L338,277"/>
<ellipse cx="326.2" cy="243.9" rx="4.6" ry="2.9" class="m w" transform="rotate(-8 326.2 243.9)"/>
<ellipse cx="376" cy="279" rx="4.6" ry="2.9" class="m w" transform="rotate(-8 376 279)"/>
<!-- area behind bracket: ribs -->
<path class="o" d="M352,246 L380,235.5 L389,240 M398,262 L420,252 L432,258 M392,284 L424,270"/>
<path class="k" style="stroke-width:2.8" d="M362,249 L381,241.5 M368,254.5 L386,247.5 M374,260 L384,256 M381,266 L396,259 M386,272 L398,267 M400,268.5 L420,259 M396,275 L424,264.5"/>
<path class="k" style="stroke-width:3" d="M381,241 L386,262 M398,262 L402,272 M408,262 L410,270"/>
<!-- small tube -->
<path class="o w" d="M382.6,226.5 L384.6,256.3 Q391,260 398,256.8 L399,226.5Z"/>
<ellipse cx="390.8" cy="226" rx="8.2" ry="4.2" class="o w"/>
<ellipse cx="390.8" cy="225.8" rx="4.4" ry="2.1" class="m w"/>
<path class="o" style="stroke-width:2.6" d="M397,240 L405,262 M397,246 L411,266"/>
<!-- TALL LUG -->
<path class="o w" style="stroke-width:3.2" d="M398.1,226 L400.9,187.5 L404.2,171 Q407.5,160.5 415.5,159 Q423,158.5 427.5,164.5 Q435.5,170 436.2,180 L437,206 L439.5,244.6 L452,262 L440,268 L428,252 L407,238 Z"/>
<path class="k" style="stroke-width:3.6" d="M408.4,233 L412.3,185 Q415.5,169.5 424,168.2 Q432.5,168.5 435.6,180.3"/>
<path class="o" d="M404.4,171.8 L412.9,182.4 M417.1,160.1 L424.5,167.5"/>
<ellipse cx="423.5" cy="183" rx="2.2" ry="2.9" class="m w"/>
<path class="k" style="stroke-width:3" d="M422.4,190 L411.8,235.3 L430.9,238 Z"/>
<path class="o" d="M422.4,196 L420,232 M417,222 l10,6 M414,230 l14,4"/>
<path d="M421.8,192 L416,222 L421,230 Z" fill="#222"/>
<!-- lug base struts -->
<path class="k" style="stroke-width:2.6" d="M407,238 L430,252 L446,268 M412,236 L436,248"/>
<!-- RIGHT BRACKET -->
<!-- under-bridge block -->
<path class="o w" d="M512.6,222 L513.4,246.4 L524,250 L542.9,253.6 L547.2,242 L529.9,227.6 L519.8,219Z"/>
<path class="o" d="M519,232 L520,247 M513,231 L519,232 L527,228"/>
<!-- arm -->
<path class="o w" d="M493.9,211.8 L473.7,240.6 L470,250 L486.7,253.6 L498.2,239.2 Q504,227.6 514.1,219.7 L519.8,205 L500,205Z"/>
<path class="m" d="M511,219 Q501.5,226 496,237.5 L484,252"/>
<!-- boss -->
<path class="o w" d="M460.8,246.4 Q462,242 467,243 L478,249.5 L478,264 L466,260.5 Q461.5,258.5 460.8,254 Z"/>
<ellipse cx="477.3" cy="257.2" rx="5.4" ry="7" class="o w" transform="rotate(15 477.3 257.2)"/>
<ellipse cx="477.7" cy="257.4" rx="2.1" ry="2.9" class="m w" transform="rotate(15 477.7 257.4)"/>
<!-- left pad -->
<path class="o w" d="M479.5,191.6 L481.7,216.1 L488.1,213.2 L493.9,207.5 L496.8,205.3 L518.4,191.6 L502.6,180.8Z"/>
<path class="o w" d="M479.5,191.6 L502.6,180.8 L518.4,191.6 L496.8,205.3Z"/>
<ellipse cx="498.2" cy="193" rx="4.6" ry="2.9" class="m w" transform="rotate(-8 498.2 193)"/>
<!-- bridge top -->
<path class="o w" d="M518.4,191.6 L529.9,198.8 L550.1,218.3 L529.9,227.6 L514.1,219.7 L519.8,201.7 L496.8,205.3Z"/>
<path class="o w" d="M496.8,205.3 L518.4,191.6 L522.7,194.5 L500,208.5Z"/>
<path class="k" style="stroke-width:3.4" d="M519.8,201.7 L519.8,219"/>
<path class="k" style="stroke-width:3" d="M524,217 L536,223 M527,213 L539,219"/>
<!-- small block top right -->
<path class="o w" d="M529.9,198.8 L541.5,193.8 L553,203.1 L553.7,213.2 L550.1,218.3 L544.3,207.5Z"/>
<path class="o" d="M544.3,207.5 L553,203.1 M544.3,207.5 L545,213.5"/>
<!-- right pad -->
<path class="o w" d="M529.9,227.6 L530.5,240 L542.9,253.6 L555.9,255 L563.1,247.8 L568.8,236.3 L570.3,230.5 L550.1,218.3Z"/>
<path class="o w" d="M529.9,227.6 L550.1,218.3 L570.3,230.5 L547.2,242Z"/>
<path class="o" d="M547.2,242 L546.6,254 M530.5,240 L547,245.2 L568.8,234.5"/>
<ellipse cx="547.9" cy="228.4" rx="4.8" ry="3" class="m w" transform="rotate(8 547.9 228.4)"/>
<path class="m" d="M552.5,243.5 l-.3,10.5 M556.5,241.6 l-.2,11 M560.5,239.8 l-.1,9.6 M564.5,237.8 l0,6.6"/>
</g>
<g id="body">
<!-- upper arc of crankcase opening: parallel curves + thick band -->
<path class="o" d="M394.6,289.1 Q408,280 418.2,275.6 Q440,268 459.8,265.5 M392,283.5 Q410,272 425,268 Q442,263 458,260.5 M394,278.5 Q412,267 430,262.5 L452,257.5"/>
<path d="M399,289 Q420,279 442.2,275.6 Q470,271.5 508.1,269.5 L512.5,277.6 Q470,280 444,283.5 Q420,288 401,296.5Z" fill="#2b2b2b" stroke="#111" stroke-width="1.8" stroke-linejoin="round"/>
<!-- dark block -->
<path d="M420,288 L445.6,284 L446.5,309.4 L440,314 L436,301 L424,307 L418,300Z" fill="#2b2b2b" stroke="#111" stroke-width="1.4"/>
<path d="M427,292.5 l6,-1 l0,8 l-6,2z" fill="#fff"/>
<!-- ribs fan -->
<g class="o" style="stroke-width:2.2">
<path d="M428.7,346.6 L487,285"/>
<path d="M433.5,348 L491.5,286"/>
<path d="M438.5,349 L496,287.5"/>
<path d="M444.5,349.5 L500,289.5"/>
<path d="M451.5,349.5 L503,293"/>
<path d="M459,350 L505,300"/>
</g>
<path class="k" style="stroke-width:3" d="M394.6,317.8 L418.2,297.6 M394.6,317.8 L411.5,339.8 M398,322 L414,312 M394,313 L405,296"/>
<path class="m" d="M396,318 L420,301 M397,320 L422,306 M398,316 L410,337 M401,316 L414,336"/>
<path class="o" d="M360,341 L398,321 M364,346 L402,327 M411.5,339.8 L424,352"/>
<!-- small bumps under arc -->
<path class="o w" d="M466,278 Q466,286 471,286 Q476,286 476,278Z"/>
<path class="o w" d="M484,277 Q484,284 488,284 Q492,284 492,277Z"/>
<!-- right round cavity -->
<path class="o" d="M526.3,252.5 L547.1,257.7 L545,266"/>
<path class="o w" d="M528.4,268.9 Q536,262 545,266 Q556,272 566,285 Q573,297 572,315 L556,318 L540,331 Q524,331 512,322 Q503,312 503,300 Q503,294 507,289 Q512,294 518,293 Q525,290 526,281Z"/>
<path class="k" style="stroke-width:4.6" d="M502.7,291.5 Q499.5,300 501,310.4 Q505,322 513.9,327.2 Q524,332.6 535,332"/>
<path class="o" d="M497,296 Q494,308 498,318 Q503,328 512,333 M493,300 Q491,312 495,322"/>
<path d="M509,296 Q507,308 512,316 Q519,325 533,327 Q522,320 518,312 Q513,302 514,294Z" fill="#fff" stroke="#111" stroke-width="1.8"/>
<path d="M514,321 Q526,330 541,330 L550,321 Q534,325 523,318Z" fill="#2b2b2b" stroke="#111" stroke-width="1.2"/>
<path class="o" d="M545,266 Q553,277 559,290 Q563,302 562,316 M566,285 L558,289 M572,300 L563,303"/>
<path d="M556,290 L566,286 L571,300 L562,303Z M562,305 L571.5,302 L572,315 L562,317Z" fill="#fff" stroke="#111" stroke-width="1.8"/>
<!-- ear with hole -->
<path class="o w" d="M511.5,275.6 Q507,281 507.5,287 Q510,294 517,293 Q525,291 526,281 Q527,274 528.4,268.9 L518,266Z"/>
<ellipse cx="516.6" cy="281.5" rx="4.4" ry="6.4" class="o w" transform="rotate(20 516.6 281.5)"/>
<path class="k" style="stroke-width:3" d="M562,317 L552.4,317.8 L549,326"/>
<!-- RIGHT FLANGE -->
<path class="k" style="stroke-width:3.2" d="M573,311 L566.5,315 L562.6,326.8 L559.2,337.2 Q557,346 551,349 L547.6,349.8 L546.8,364.8 Q547.5,370 553,372.5 Q555.5,379 554.5,387 L553,407.6 L545.3,434.6 L538.5,456.6 L528.4,485.3 L508.1,515.7 L491.2,539.4 Q476,551 455.7,559.7 L416.9,571.5 L398,577"/>
<path class="o" d="M535.3,341 L535.3,364.8 L543.2,368 L548.5,375.5 Q549.5,384 549,390.7 L547,411 L535.1,448.1 L523.3,485.3 L501.4,519.1 L481.1,542.8 Q468,552 450.7,559.7 L414,569 L400,572"/>
<!-- inner cover curve (double) -->
<path class="o" style="stroke-width:2" d="M512,486 Q505,500 494.6,510.7 Q484,524 470.9,534.3 Q458,543 442.2,549.5 Q426,555 410.1,558 L396,560"/>
<path class="o" style="stroke-width:1.8" d="M515.5,486.5 Q508,502 497.5,513 Q487,526 473,537 Q460,546 444,552.5 Q428,558 411,561 L398,563.5"/>
<!-- boss top right -->
<path class="o w" d="M540,320 Q535,328 535.3,341 L547.6,349.6 L557,340 L563,313 Z"/>
<ellipse cx="547" cy="336" rx="5.6" ry="7.4" class="o w" transform="rotate(20 547 336)"/>
<ellipse cx="547.2" cy="336.2" rx="2.2" ry="3.2" class="m w" transform="rotate(20 547.2 336.2)"/>
<!-- cylinder boss top-left of bearing -->
<path class="o w" d="M400.2,345.2 Q403,338 410,340 L425,352 L414,367 L401,357Z"/>
<!-- MAIN BEARING BOSS -->
<g transform="translate(433.5,399.7) rotate(19)">
<ellipse rx="30.2" ry="47.5" fill="#fff" stroke="#111" stroke-width="3.6"/>
</g>
<g transform="translate(435.2,400.2) rotate(19)">
<ellipse rx="26.8" ry="43.6" fill="#fff" stroke="#111" stroke-width="2.4"/>
</g>
<g transform="translate(436.8,400.6) rotate(19)">
<ellipse rx="24" ry="40.4" fill="#2b2b2b" stroke="#111" stroke-width="1.6"/>
</g>
<g transform="translate(439.6,401) rotate(19.5)">
<ellipse rx="20.6" ry="35.2" fill="#fff" stroke="#111" stroke-width="1.6"/>
</g>
<g transform="translate(441.3,401.4) rotate(20)">
<ellipse rx="18.4" ry="31.5" fill="#fff" stroke="#111" stroke-width="2.8"/>
</g>
<path class="o" d="M444.5,373 Q434,390 430.4,421.3 M451,377 Q441,394 436.5,422 Q436,428 438,431 M443.4,384 L450,388"/>
<path class="o" d="M425.5,425 Q440,428 452,418 Q460,409 461.5,396 M427.5,419 Q440,421 450,411"/>
<!-- top-left boss face -->
<ellipse cx="419.2" cy="359.9" rx="6" ry="7.8" class="o w" transform="rotate(18 419.2 359.9)"/>
<ellipse cx="419.4" cy="360.1" rx="2.4" ry="3.4" class="m w" transform="rotate(18 419.4 360.1)"/>
<!-- SECOND OPENING -->
<path class="k w" style="stroke-width:3.4;fill:#fff" d="M478.5,414.3 Q477,400 484,392 Q490,388 496.3,389 Q508,390 514,400 L516.6,407.6 L524,410 L524,414 L516.6,415 Q516,425 507,431 Q500,434.5 494.6,433.8 Q483,431 478.5,414.3Z"/>
<path class="k" style="stroke-width:3" d="M472.5,413 Q471.5,398 479.5,388 Q488,382 499,383.5 Q510,386 516,396 M472.5,413 L462,410 M472.5,419 Q476,433 487,439.5"/>
<!-- bosses w/ holes -->
<g class="o w">
<ellipse cx="487.5" cy="356.4" rx="5.2" ry="6.8" transform="rotate(18 487.5 356.4)"/>
<ellipse cx="495.3" cy="347.8" rx="5.2" ry="6.6" transform="rotate(18 495.3 347.8)"/>
<ellipse cx="477.7" cy="380.6" rx="5.6" ry="7.2" transform="rotate(18 477.7 380.6)"/>
<ellipse cx="527.5" cy="384.8" rx="5.6" ry="7.2" transform="rotate(18 527.5 384.8)"/>
<ellipse cx="401.9" cy="452.4" rx="6" ry="7.6" transform="rotate(18 401.9 452.4)"/>
</g>
<g class="m w">
<ellipse cx="487.7" cy="356.6" rx="2" ry="3" transform="rotate(18 487.7 356.6)"/>
<ellipse cx="495.5" cy="348" rx="2" ry="3" transform="rotate(18 495.5 348)"/>
<ellipse cx="477.9" cy="380.8" rx="2.2" ry="3.2" transform="rotate(18 477.9 380.8)"/>
<ellipse cx="527.7" cy="385" rx="2.2" ry="3.2" transform="rotate(18 527.7 385)"/>
<ellipse cx="402.1" cy="452.6" rx="2.4" ry="3.4" transform="rotate(18 402.1 452.6)"/>
</g>
<!-- strut rods -->
<path class="o" d="M481,374.5 L506,353 M484,379.5 L510,357 M487.5,384 L512,362 M500,341.5 L520,325 M504,346.5 L524,329.5"/>
<path class="k" style="stroke-width:3.2" d="M467,371 L481,363 M461,387 Q465,378 472,378 M465,399 L472,388 M468,360 Q476,352 484,349"/>
<path class="o" d="M510,366 L521,372 L517,378.5 L506,374Z M521,392 L528,378 M533,380 L543,372 M521,392 L516,398 M531,392 Q526,398 526,404"/>
<!-- ribbed panel lower right -->
<path class="o w" d="M533.4,400.8 L541.9,405.9 L538.5,412.6 L529.2,407.6Z"/>
<g class="o">
<path d="M524,409 L508,457"/>
<path d="M528,411 L512,458"/>
<path d="M532,413 L516,459"/>
<path d="M536,414.5 L519.5,460"/>
<path d="M540,415 L523.5,461"/>
</g>
<path class="o" d="M506.4,460 L505.6,480.3 L513.2,485.3 L516.6,483.6 L528.4,460"/>
<path class="m" d="M510,460 L510.5,481 M514,460 L512.5,483 M518,460 L514,484 M522.5,460 L515.5,484"/>
<path d="M506,478 L513.2,486 L517,483 L512,480Z" fill="#222"/>
<!-- cylinder boss bottom (horizontal) -->
<path class="o w" d="M440,438 Q446,430 454,432 L470,440 L466,456 L450,452 Q442,448 440,438Z"/>
<ellipse cx="467.6" cy="448.9" rx="5.6" ry="7.6" class="o w" transform="rotate(18 467.6 448.9)"/>
<ellipse cx="467.8" cy="449.1" rx="2.2" ry="3.2" class="m w" transform="rotate(18 467.8 449.1)"/>
<path class="k" style="stroke-width:3" d="M446,438 L452,448 M441,446 Q446,456 456,459"/>
<!-- shelf lines -->
<path class="o" d="M474.3,447 L521.6,426.1 M476,455 L519,434 M420,474.4 L455.7,460 L474,451 M420,490 L479.4,461.7 L506,449"/>
<path class="o" d="M372.6,498.6 L420,474.4 M383,509 L420,490"/>
<!-- small holes on lower face -->
<ellipse cx="433.3" cy="509.8" rx="3.6" ry="5" class="o w" transform="rotate(20 433.3 509.8)"/>
<ellipse cx="482.3" cy="498" rx="3.3" ry="5" class="o w" transform="rotate(20 482.3 498)"/>
<!-- horizontal ribs between fins and boss -->
<path d="M350.7,345.5 L401.4,352 L404,358.5 L352,352Z" fill="#2b2b2b" stroke="#111" stroke-width="1.4"/>
<path class="o w" d="M335,352.5 Q338,349 343,351 L356,360 L358,380 L348,382 L333.8,372 Q332,362 335,352.5Z"/>
<ellipse cx="354.9" cy="373.1" rx="5" ry="6.6" class="o w" transform="rotate(15 354.9 373.1)"/>
<ellipse cx="355.1" cy="373.3" rx="2" ry="3" class="m w" transform="rotate(15 355.1 373.3)"/>
<path class="o" d="M358,365.5 L404.7,370.5 M359,372 L404,376.5 M359.1,379 L403,382.4"/>
<!-- dark band lower -->
<path d="M324.2,415 L396.8,420 L400,428 L322,423Z" fill="#2b2b2b" stroke="#111" stroke-width="1.6"/>
<path d="M332,419.5 L392,424" stroke="#999" stroke-width=".9" stroke-dasharray="1.5 5" fill="none"/>
<path class="o" d="M371,384 L367.6,414.5 M376,384.5 L373,415 M394.6,385.7 L392.9,418 M399,386 L398,419"/>
<path class="o" d="M342.2,407.7 Q356,404 365,390 L368,383 M337,404 Q350,398 356,384"/>
<!-- lower-left cylinder boss -->
<path class="o w" d="M322.5,438 Q324,432 330,433 L343,450 L340,468 L330,466 L318,452Z"/>
<ellipse cx="338.4" cy="459.7" rx="4.8" ry="6.6" class="o w" transform="rotate(18 338.4 459.7)"/>
<ellipse cx="338.6" cy="459.9" rx="2" ry="3" class="m w" transform="rotate(18 338.6 459.9)"/>
<path class="o" d="M330,428 Q344,430 352,440 Q356,448 352,458 M336,426 L356,436"/>
<!-- right cylinder boss -->
<path class="o w" d="M381.3,438 Q384,431 391,432.5 L408,446 L398,463 L382,452 Q379,445 381.3,438Z"/>
<ellipse cx="402" cy="453.6" rx="6.4" ry="8.4" class="o w" transform="rotate(18 402 453.6)"/>
<ellipse cx="402.2" cy="453.8" rx="2.6" ry="3.6" class="m w" transform="rotate(18 402.2 453.8)"/>
<!-- plug boss circle -->
<circle cx="376.1" cy="474" r="11.4" class="k w" style="stroke-width:2.8;fill:#fff"/>
<circle cx="376.8" cy="474.4" r="8.2" class="o w"/>
<path class="o" d="M367.4,431.1 L364,457 L366,464 M372,431.5 L369,458 M360.5,493.4 Q362,503 372.6,507.2 L390,519.3 M356,493 Q357,506 369,511 L385,522"/>
<path class="o" d="M338,488.2 L357,481.3 L365,479 M341.5,498.6 L360,492"/>
<path class="o" d="M396,428 Q402,440 401.4,447"/>
</g>
<g id="base">
<!-- outer silhouette of base -->
<path class="o" d="M278.7,518.6 L266,522 L264.4,532.1 L259.3,536.3 L260.5,557.4 L282.1,573.5 L296,575 L320,580 L324.3,601.4 L337.8,613.2 L358.1,614.9 L378.4,601.4 L409.8,584.5 L420.4,579.3 L494,543.8 L492.1,547.8"/>
<path class="o" d="M259.3,536.3 L286.3,551.5 L295.6,555.7 L320.9,574.3 L322.6,582.8 L334.5,594.6 L354.7,591.2 L371.6,581.1 M295.6,555.7 L296,575"/>
<!-- slot -->
<path class="o w" d="M273.6,533 Q276,529 282,531.5 L292,536.5 Q296,540 293,543.5 Q290,545.5 284,543 L275.5,539 Q272,537 273.6,533Z"/>
<path class="m" d="M285.4,533.5 L284.6,542.5"/>
<ellipse cx="302.4" cy="570.1" rx="2.6" ry="4.8" class="o w" transform="rotate(12 302.4 570.1)"/>
<ellipse cx="347.1" cy="587" rx="5.4" ry="3.1" class="o w" transform="rotate(-8 347.1 587)"/>
<!-- boss -->
<circle cx="378.4" cy="588.7" r="6.8" class="o w"/>
<circle cx="378.6" cy="588.9" r="2.4" class="m w"/>
<!-- long diagonal edge -->
<path class="m" d="M290.5,522.8 L368.2,579.4 M337.8,558.3 L370,581"/>
<!-- gusset -->
<path class="w" d="M326.7,473.3 L336.7,490.4 L350.9,520.7 L354.9,532.8 L376.7,571 L372,580 L292,522 L300,500 L310,480Z"/>
<path class="o" d="M326.7,473.3 L336.7,490.4 L350.9,520.7 L354.9,532.8 L376.7,571 L373,579"/>
<path class="o" d="M341,506 L356,534 L378,572"/>
<!-- cover curve lines at left-bottom -->
<path class="o" d="M361.5,493 Q372,502 378.4,510.1 Q388,515 391.9,520.3 Q396,530 396.5,540 L397,555.7 L412.7,557.7"/>
<path class="o" d="M368.2,493 Q380,504 395.3,518.6 Q400,530 400,542 L400.3,554"/>
<path class="m" d="M385.1,523.6 Q389,535 388.5,555.7"/>
<path class="o" d="M376.7,571 L398,577 M378,561 L396,560 L404,572"/>
<!-- lower-left messy dark stuff under fins -->
<path class="k" style="stroke-width:3" d="M250,470.3 Q258,482 270.2,494.5 L278.2,506.6 L280.3,518.7 M256,468 Q266,480 276,488 L286,500 M262,467 Q272,478 284,484 L292,490"/>
<path class="k" style="stroke-width:3.4" d="M286.3,480.3 L340.8,514.6 M300.4,480.3 L346.8,518.7 M276.2,476.3 L300.4,476 L326.7,473.3"/>
<path class="o" d="M292,484 L322,504 L350,524 M310,481 L336,492 M318,478 L340,500"/>
<path d="M280,497 L288,494 L296,500 L300,512 L296,522 L288,524 L282,516 L284,506Z" fill="#2b2b2b" stroke="#111" stroke-width="1.4"/>
<path d="M286,500 l4,2 l-1,5 l-4,-2z" fill="#fff"/>
<path class="o" d="M296,512 L302,516 L304,506 M326.7,473.3 L336.7,490.4"/>
<!-- right foot lug -->
<path class="o w" d="M533.4,482 L540.2,483.6 L544.4,492.1 L545.3,515.7 L535.1,522.5 L492.1,542.8 L492.1,547.8 L487,545 L510,520 L524,498Z"/>
<path class="o" d="M535.1,500.5 L536.8,520.8 M528,492 L535.1,500.5 L544.4,492.1"/>
<ellipse cx="530.9" cy="491.3" rx="4.6" ry="2.8" class="m w" transform="rotate(-10 530.9 491.3)"/>
<circle cx="521.6" cy="516.6" r="7.4" class="o w"/>
<circle cx="521.8" cy="516.8" r="2.8" class="m w"/>
</g>
</svg>
</body></html>
